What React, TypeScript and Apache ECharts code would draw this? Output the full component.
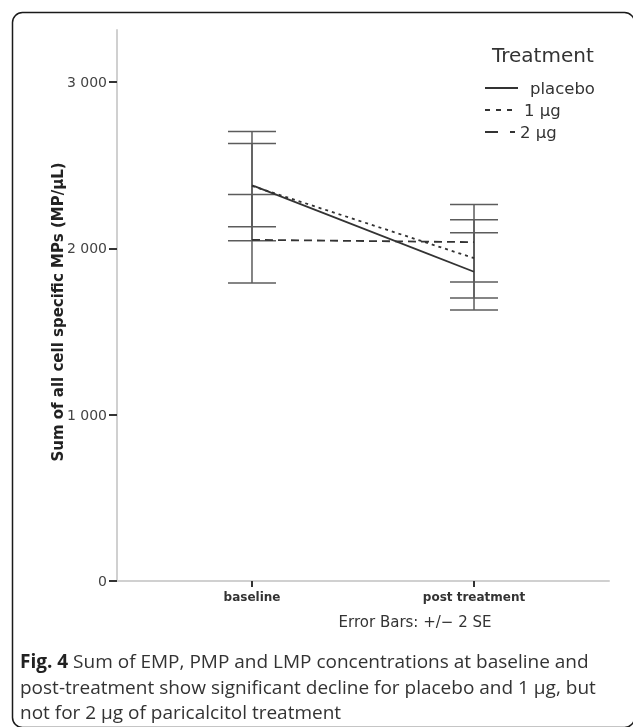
import React, { useEffect, useRef } from "react";
import * as echarts from "echarts";

const categories = ["baseline", "post treatment"];
const seriesNames = ["placebo", "1 µg", "2 µg"];
const placeboMean = [2380, 1860];
const oneMean = [2376, 1942];
const twoMean = [2052, 2038];
const placeboLow = [2131, 1630];
const placeboHigh = [2632, 2095];
const oneLow = [2046, 1702];
const oneHigh = [2704, 2173];
const twoLow = [1793, 1799];
const twoHigh = [2324, 2264];
const yTicks = [0, 1000, 2000, 3000];
const captionLines = [
  "Sum of EMP, PMP and LMP concentrations at baseline and",
  "post-treatment show significant decline for placebo and 1 µg, but",
  "not for 2 µg of paricalcitol treatment",
];

const fmt = (v: number) =>
  v === 0 ? "0" : String(v).replace(/\B(?=(\d{3})+(?!\d))/g, " ");

export default function App() {
  const ref = useRef<HTMLDivElement>(null);
  useEffect(() => {
    const chart = echarts.init(ref.current!, null, { renderer: "svg" });
    const toPts = (arr: number[]) => arr.map((v, i) => [i, v]);
    const errData = [
      ...placeboLow.map((l, i) => [i, l, placeboHigh[i]]),
      ...oneLow.map((l, i) => [i, l, oneHigh[i]]),
      ...twoLow.map((l, i) => [i, l, twoHigh[i]]),
    ];
    const lineColor = "#333";
    const barColor = "#5c5c5c";
    const legendY = [88, 110, 132];
    const legendX2 = [518, 515, 515];
    const legendTextX = [530, 524, 520];
    const dashes: any[] = [null, [5, 6], [13, 12]];
    const legendEls: any[] = [
      {
        type: "text",
        x: 492,
        y: 55,
        style: {
          text: "Treatment",
          font: "20px 'DejaVu Sans'",
          fill: "#333",
          verticalAlign: "middle",
        },
      },
    ];
    seriesNames.forEach((n, i) => {
      legendEls.push({
        type: "line",
        shape: { x1: 485, y1: legendY[i], x2: legendX2[i], y2: legendY[i] },
        style: { stroke: lineColor, lineWidth: 2, lineDash: dashes[i] },
      });
      legendEls.push({
        type: "text",
        x: legendTextX[i],
        y: legendY[i],
        style: {
          text: n,
          font: "16.5px 'DejaVu Sans'",
          fill: "#333",
          verticalAlign: "middle",
        },
      });
    });
    chart.setOption({
      animation: false,
      grid: { left: 117, right: 24, top: 30, bottom: 146 },
      xAxis: {
        type: "value",
        min: -0.608,
        max: 1.608,
        axisLine: { show: true, onZero: false, lineStyle: { color: "#d0d0d0", width: 2 } },
        axisTick: {
          show: true,
          customValues: [0, 1],
          length: 6,
          lineStyle: { color: "#333", width: 2 },
        },
        axisLabel: {
          customValues: [0, 1],
          formatter: (v: number) => categories[Math.round(v)],
          color: "#333",
          fontSize: 12,
          fontWeight: "bold",
          fontFamily: "DejaVu Sans",
          margin: 10,
        },
        splitLine: { show: false },
      },
      yAxis: {
        type: "value",
        min: 0,
        max: 3314,
        axisLine: { show: true, onZero: false, lineStyle: { color: "#d0d0d0", width: 2 } },
        axisTick: {
          show: true,
          customValues: yTicks,
          length: 8,
          lineStyle: { color: "#333", width: 2 },
        },
        axisLabel: {
          customValues: yTicks,
          formatter: (v: number) => fmt(v),
          color: "#444",
          fontSize: 14,
          fontFamily: "DejaVu Sans",
          margin: 10,
        },
        splitLine: { show: false },
      },
      series: [
        {
          type: "custom",
          name: "errors",
          data: errData,
          encode: { x: 0, y: [1, 2] },
          z: 1,
          renderItem: (params: any, api: any) => {
            const x = api.value(0);
            const lo = api.coord([x, api.value(1)]);
            const hi = api.coord([x, api.value(2)]);
            const w = 24;
            const st = { stroke: barColor, lineWidth: 1.5 };
            return {
              type: "group",
              children: [
                { type: "line", shape: { x1: lo[0], y1: lo[1], x2: hi[0], y2: hi[1] }, style: st },
                { type: "line", shape: { x1: lo[0] - w, y1: lo[1], x2: lo[0] + w, y2: lo[1] }, style: st },
                { type: "line", shape: { x1: hi[0] - w, y1: hi[1], x2: hi[0] + w, y2: hi[1] }, style: st },
              ],
            };
          },
        },
        {
          type: "line",
          name: seriesNames[0],
          data: toPts(placeboMean),
          symbol: "none",
          z: 3,
          lineStyle: { color: lineColor, width: 1.8 },
        },
        {
          type: "line",
          name: seriesNames[1],
          data: toPts(oneMean),
          symbol: "none",
          z: 3,
          lineStyle: { color: lineColor, width: 1.8, type: [3, 4] },
        },
        {
          type: "line",
          name: seriesNames[2],
          data: toPts(twoMean),
          symbol: "none",
          z: 3,
          lineStyle: { color: lineColor, width: 1.8, type: [8, 5] },
        },
      ],
      graphic: [
        {
          type: "rect",
          shape: { x: 12.5, y: 12.5, width: 622, height: 715, r: 10 },
          style: { fill: "none", stroke: "#1a1a1a", lineWidth: 1.5 },
        },
        {
          type: "text",
          x: 58,
          y: 312,
          rotation: Math.PI / 2,
          style: {
            text: "Sum of all cell specific MPs (MP/µL)",
            font: "bold 15px 'DejaVu Sans'",
            fill: "#222",
            align: "center",
            verticalAlign: "middle",
          },
        },
        {
          type: "text",
          x: 415,
          y: 622,
          style: {
            text: "Error Bars: +/− 2 SE",
            font: "15px 'DejaVu Sans'",
            fill: "#333",
            align: "center",
            verticalAlign: "middle",
          },
        },
        ...legendEls,
        {
          type: "text",
          x: 20,
          y: 661,
          style: {
            text: "{b|Fig. 4} " + captionLines[0],
            rich: {
              b: { font: "bold 19px 'Open Sans'", fill: "#222" },
            },
            font: "19px 'Open Sans'",
            fill: "#333",
            verticalAlign: "middle",
          },
        },
        {
          type: "text",
          x: 20,
          y: 687,
          style: { text: captionLines[1], font: "19px 'Open Sans'", fill: "#333", verticalAlign: "middle" },
        },
        {
          type: "text",
          x: 20,
          y: 712,
          style: { text: captionLines[2], font: "19px 'Open Sans'", fill: "#333", verticalAlign: "middle" },
        },
      ],
    });
    return () => chart.dispose();
  }, []);
  return (
    <div
      ref={ref}
      style={{ position: "fixed", left: 0, top: 0, width: 633, height: 727 }}
    />
  );
}
